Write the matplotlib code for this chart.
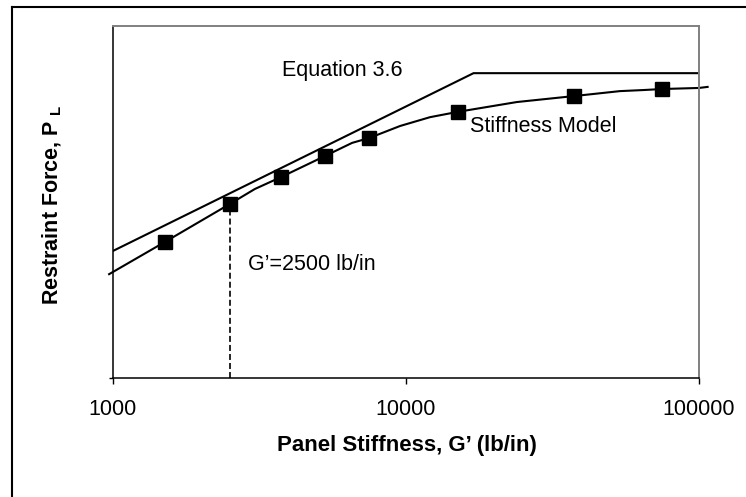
import matplotlib
matplotlib.use("Agg")
import matplotlib.pyplot as plt
from matplotlib.lines import Line2D

plt.rcParams['font.family'] = ['Liberation Sans', 'DejaVu Sans']
plt.rcParams['lines.scale_dashes'] = False
plt.rcParams['mathtext.fontset'] = 'custom'
plt.rcParams['mathtext.bf'] = 'Liberation Sans:bold'
plt.rcParams['mathtext.rm'] = 'Liberation Sans:bold'

# ---- data (arbitrary force units, 0-100) ----
marker_x = [1500, 2500, 3750, 5300, 7500, 15000, 37500, 75000]
marker_y = [38.6, 49.4, 57.1, 63.1, 68.2, 75.6, 80.1, 82.1]

model_x = [970, 1500, 2500, 3050, 3750, 5300, 6550, 7500, 9550, 12080, 15000,
           23900, 37500, 53700, 64400, 75000, 100000, 107000]
model_y = [29.5, 38.6, 49.4, 53.7, 57.1, 63.1, 66.8, 68.2, 71.6, 74.1, 75.6,
           78.4, 80.1, 81.5, 81.8, 82.1, 82.4, 82.7]

eq_x = [1000, 17000, 100000]
eq_y = [36.1, 86.6, 86.6]

g_ref = 2500
g_ref_y = 49.4

xticks = [1000, 10000, 100000]
xtick_labels = ['1000', '10000', '100000']

W, H = 746, 497
fig = plt.figure(figsize=(W / 100, H / 100), dpi=100)
ax = fig.add_axes([113 / W, (H - 378) / H, (699 - 113) / W, (378 - 26) / H])

ax.set_xscale('log')
ax.set_xlim(1000, 100000)
ax.set_ylim(0, 100)

ax.plot(eq_x, eq_y, color='black', lw=1.5, solid_joinstyle='miter')
ax.plot(model_x, model_y, color='black', lw=1.5, clip_on=False)
ax.plot(marker_x, marker_y, linestyle='none', marker='s', markersize=9.5,
        color='black', clip_on=False, zorder=5)
ax.plot([g_ref, g_ref], [0, g_ref_y], color='black', lw=1.2, dashes=(4.3, 2.2))

ax.text(282 / W, 1 - 71 / H, 'Equation 3.6', transform=fig.transFigure,
        fontsize=15.5, ha='left', va='center')
ax.text(470 / W, 1 - 126 / H, 'Stiffness Model', transform=fig.transFigure,
        fontsize=15.5, ha='left', va='center')
ax.text(248 / W, 1 - 265 / H, 'G\u2019=2500 lb/in', transform=fig.transFigure,
        fontsize=15.5, ha='left', va='center')

ax.set_xticks(xticks)
ax.set_xticklabels(xtick_labels, fontsize=15.5)
ax.xaxis.set_minor_locator(matplotlib.ticker.NullLocator())
ax.tick_params(axis='x', which='major', direction='out', length=4.3, width=1,
               pad=11)
ax.set_yticks([0])
ax.set_yticklabels([''])
ax.tick_params(axis='y', direction='out', length=3, width=1)

for s in ['left', 'bottom']:
    ax.spines[s].set_color('black')
    ax.spines[s].set_linewidth(1.1)
for s in ['top', 'right']:
    ax.spines[s].set_color('#808080')
    ax.spines[s].set_linewidth(1.4)

fig.text(407 / W, 1 - 446 / H, 'Panel Stiffness, G\u2019 (lb/in)', fontsize=16,
         fontweight='bold', ha='center', va='center')
fig.text(52 / W, 1 - 205 / H, r'Restraint Force, P$_{\ \mathbf{L}}$', fontsize=15.5,
         fontweight='bold', ha='center', va='center', rotation=90)

# outer frame (left and top edges visible)
fig.add_artist(Line2D([11.5 / W, 11.5 / W], [0, 1 - 6.5 / H], transform=fig.transFigure,
                      color='black', lw=1.5))
fig.add_artist(Line2D([11.5 / W, 1], [1 - 6.5 / H, 1 - 6.5 / H], transform=fig.transFigure,
                      color='black', lw=1.5))

fig.savefig('out.png', dpi=100)
